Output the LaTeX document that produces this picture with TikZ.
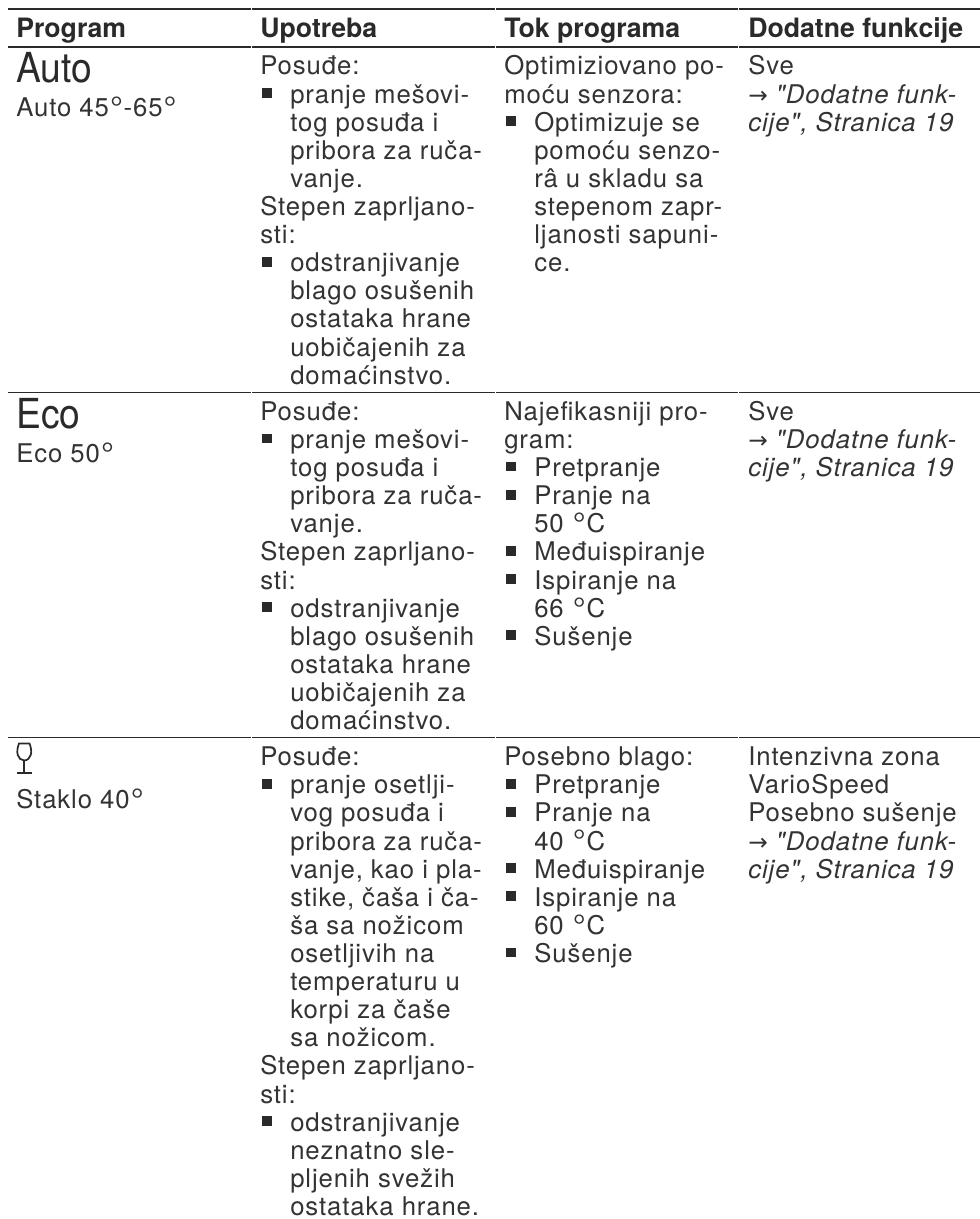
\documentclass[tikz,border=0pt]{standalone}
\usepackage{graphicx}
\usepackage{fontspec}
\setmainfont{TeX Gyre Heros}
\newfontfamily\arrowfont{DejaVu Sans}
\newfontfamily\spaced[LetterSpace=3.5]{TeX Gyre Heros}
\definecolor{ink}{HTML}{2A2A2A}
\definecolor{lightink}{HTML}{333333}
\tikzset{
  rulea/.style={line width=1.2pt,ink},
  hd/.style={anchor=base west,inner sep=0pt,font=\fontsize{20}{20}\selectfont\bfseries,text=ink},
  tx/.style={anchor=base west,inner sep=0pt,font=\spaced\fontsize{19.3}{19.3}\selectfont,text=lightink},
  big/.style={anchor=base west,inner sep=0pt,font=\fontsize{31}{31}\selectfont,text=ink},
  bul/.style={fill=ink,inner sep=0pt,minimum size=7.3pt,draw=none,anchor=center},
  glass/.style={line width=1.3pt,ink}
}
\newcommand{\dg}{\kern0.8pt\raisebox{-2.2pt}{\scalebox{1.25}{°}}\kern0.6pt}
% \Lines{name}{x}{first baseline}{lines}
\newcommand{\Lines}[4]{\foreach \t [count=\i from 0] in {#4} {\node[tx] (#1-\i) at (#2,{#3+\i*28.1}) {\t};}}
% \Bul{name}{text x}{baseline}
\newcommand{\Bul}[3]{\node[bul] (#1) at (#2-23.3,#3-10) {};}
\newcommand{\Rule}[1]{%
  \draw[rulea] (8,#1) -- (251,#1);
  \draw[rulea] (252,#1) -- (495,#1);
  \draw[rulea] (496,#1) -- (738,#1);
  \draw[rulea] (739,#1) -- (980,#1);}
\newcommand{\Arr}{{\arrowfont\fontsize{17.5}{17.5}\selectfont →}}
\newcommand{\DodRef}[3]{%
  \node[tx] (#1-a) at (#2,#3) {\Arr\ \textit{"Dodatne funk-}};
  \node[tx] (#1-b) at (#2,#3+28.1) {\textit{cije", Stranica 19}};}
\begin{document}
\begin{tikzpicture}[x=0.75pt,y=-0.75pt]
\useasboundingbox (0,0) rectangle (980,1219);
\fill[white] (0,0) rectangle (980,1219);
\Rule{9.3}
\Rule{46.8}
\Rule{392.4}
\Rule{737.5}
\node[hd] (h1) at (16,38) {Program};
\node[hd] (h2) at (260,38) {Upotreba};
\node[hd] (h3) at (504,38) {Tok programa};
\node[hd] (h4) at (748,38) {Dodatne funkcije};
% row 1
\node[big] (autoB) at (16,82.7) {\scalebox{0.9}[1]{Auto}};
\node[tx] (autoS) at (16,116.7) {Auto 45\dg-65\dg};
\Lines{a1}{260}{75}{Posuđe:}
\Bul{ab1}{290}{103.1}
\Lines{a2}{290}{103.1}{pranje mešovi-,tog posuđa i,pribora za ruča-,vanje.}
\Lines{a3}{260}{215.5}{Stepen zaprljano-,sti:}
\Bul{ab2}{290}{271.7}
\Lines{a4}{290}{271.7}{odstranjivanje,blago osušenih,ostataka hrane,uobičajenih za,domaćinstvo.}
\Lines{a5}{504}{75}{Optimiziovano po-,moću senzora:}
\Bul{ab3}{534}{131.2}
\Lines{a6}{534}{131.2}{Optimizuje se,pomoću senzo-,râ u skladu sa,stepenom zapr-,ljanosti sapuni-,ce.}
\Lines{a7}{748}{75}{Sve}
\DodRef{a8}{748}{103.1}
% row 2
\node[big] (ecoB) at (16,428) {\scalebox{0.9}[1]{Eco}};
\node[tx] (ecoS) at (16,462.4) {Eco 50\dg};
\Lines{e1}{260}{420.4}{Posuđe:}
\Bul{eb1}{290}{448.5}
\Lines{e2}{290}{448.5}{pranje mešovi-,tog posuđa i,pribora za ruča-,vanje.}
\Lines{e3}{260}{560.9}{Stepen zaprljano-,sti:}
\Bul{eb2}{290}{617.1}
\Lines{e4}{290}{617.1}{odstranjivanje,blago osušenih,ostataka hrane,uobičajenih za,domaćinstvo.}
\Lines{e5}{504}{420.4}{Najefikasniji pro-,gram:}
\Bul{eb3}{534}{476.6}
\Lines{e6}{534}{476.6}{Pretpranje}
\Bul{eb4}{534}{504.7}
\Lines{e7}{534}{504.7}{Pranje na,50 \dg C}
\Bul{eb5}{534}{560.9}
\Lines{e8}{534}{560.9}{Međuispiranje}
\Bul{eb6}{534}{589}
\Lines{e9}{534}{589}{Ispiranje na,66 \dg C}
\Bul{eb7}{534}{645.2}
\Lines{e10}{534}{645.2}{Sušenje}
\Lines{e11}{748}{420.4}{Sve}
\DodRef{e12}{748}{448.5}
% row 3
\draw[glass] (19,743.5) -- (29.5,743.5) .. controls (33,752) and (31,760) .. (24.2,760.5) .. controls (17.5,760) and (15.5,752) .. (19,743.5) -- cycle;
\draw[glass] (24.2,760.5) -- (24.2,773);
\draw[glass] (16.5,773) -- (31.5,773);
\node[tx] (glS) at (16,808.3) {Staklo 40\dg};
\Lines{g1}{260}{765.7}{Posuđe:}
\Bul{gb1}{290}{793.8}
\Lines{g2}{290}{793.8}{pranje osetlji-,vog posuđa i,pribora za ruča-,{vanje, kao i pla-},{stike, čaša i ča-},ša sa nožicom,osetljivih na,temperaturu u,korpi za čaše,sa nožicom.}
\Lines{g3}{260}{1074.9}{Stepen zaprljano-,sti:}
\Bul{gb2}{290}{1131.1}
\Lines{g4}{290}{1131.1}{odstranjivanje,neznatno sle-,pljenih svežih,ostataka hrane.}
\Lines{g5}{504}{765.7}{Posebno blago:}
\Bul{gb3}{534}{793.8}
\Lines{g6}{534}{793.8}{Pretpranje}
\Bul{gb4}{534}{821.9}
\Lines{g7}{534}{821.9}{Pranje na,40 \dg C}
\Bul{gb5}{534}{878.1}
\Lines{g8}{534}{878.1}{Međuispiranje}
\Bul{gb6}{534}{906.2}
\Lines{g9}{534}{906.2}{Ispiranje na,60 \dg C}
\Bul{gb7}{534}{962.4}
\Lines{g10}{534}{962.4}{Sušenje}
\Lines{g11}{748}{765.7}{Intenzivna zona,VarioSpeed,Posebno sušenje}
\DodRef{g12}{748}{850}
\end{tikzpicture}
\end{document}
